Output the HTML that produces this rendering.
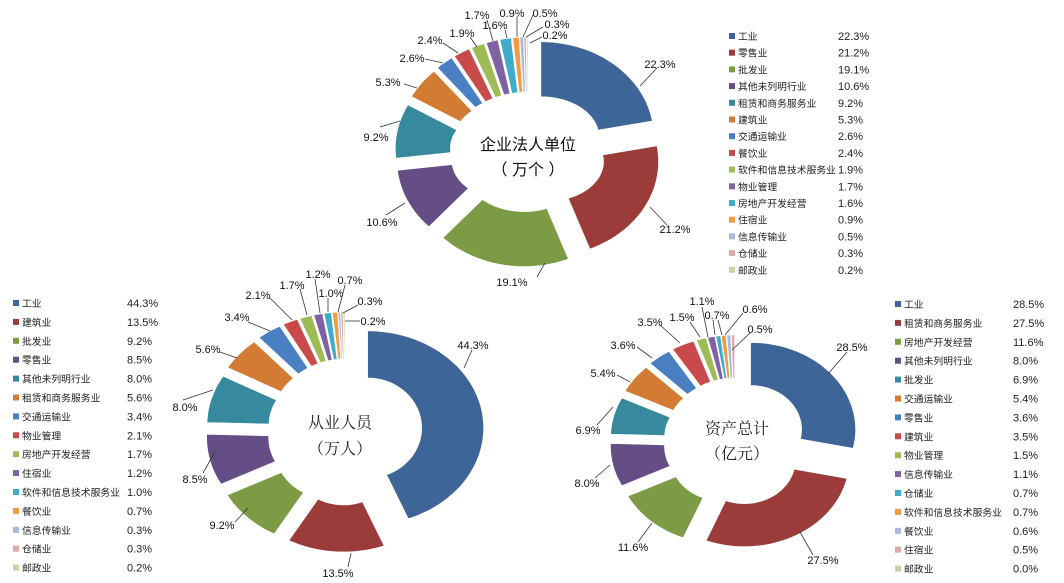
<!DOCTYPE html>
<html><head><meta charset="utf-8">
<style>
html,body{margin:0;padding:0;background:#fff;}
svg{display:block;font-family:"Liberation Sans","Noto Sans CJK SC",sans-serif;}
</style></head>
<body>
<svg id="s" width="1064" height="583" viewBox="0 0 1064 583" xmlns="http://www.w3.org/2000/svg"></svg>
<script>
var C=["#3E6598","#9B3C3A","#7D9A45","#654D85","#37899E","#D27B33","#4A7FC4","#C84A4A","#9DBB56","#7F62A3","#3FADC9","#F29A43","#A9B9DA","#DCA9A8","#C3D6A5"];
var s=document.getElementById('s'),h='';
function ring(cx,cy,Rx,Ry,rx,ry,o,vals){
 var tot=vals.reduce(function(a,b){return a+b},0),acc=0;
 vals.forEach(function(v,i){
  if(v<=0){return;}
  var a0=acc/tot*360,a1=(acc+v)/tot*360;acc+=v;
  var m=(a0+a1)/2*Math.PI/180,dx=o*Math.sin(m),dy=-o*Math.cos(m);
  var n=Math.max(2,Math.ceil((a1-a0)/3)),p=[];
  for(var k=0;k<=n;k++){var a=(a0+(a1-a0)*k/n)*Math.PI/180;p.push((cx+dx+Rx*Math.sin(a)).toFixed(1)+','+(cy+dy-Ry*Math.cos(a)).toFixed(1));}
  for(var k=n;k>=0;k--){var a=(a0+(a1-a0)*k/n)*Math.PI/180;p.push((cx+dx+rx*Math.sin(a)).toFixed(1)+','+(cy+dy-ry*Math.cos(a)).toFixed(1));}
  h+='<polygon points="'+p.join(' ')+'" fill="'+C[i]+'" stroke="#fff" stroke-width="0.6"/>';
 });
}
function labels(L){L.forEach(function(l){
 h+='<line x1="'+l[3]+'" y1="'+l[4]+'" x2="'+l[5]+'" y2="'+l[6]+'" stroke="#333" stroke-width="0.8"/>';
 h+='<text x="'+l[1]+'" y="'+(l[2]+4)+'" font-size="11" text-anchor="middle" fill="#111">'+l[0]+'</text>';
});}
function legend(x,y,step,vx,names,vals){names.forEach(function(n,i){
 var yy=y+i*step;
 h+='<rect x="'+x+'" y="'+(yy-3)+'" width="6" height="6" fill="'+C[i]+'"/>';
 h+='<text x="'+(x+9)+'" y="'+(yy+4)+'" font-size="9.8" fill="#222">'+n+'</text>';
 h+='<text x="'+vx+'" y="'+(yy+4)+'" font-size="11" fill="#222">'+vals[i]+'</text>';
});}
// chart 1
var v1=[22.3,21.2,19.1,10.6,9.2,5.3,2.6,2.4,1.9,1.7,1.6,0.9,0.5,0.3,0.2];
ring(528,152,113,95,58,40,20,v1);
labels([["22.3%",660,64,657,68,640,86],["21.2%",675,229,650,207,667,225],["19.1%",512,282,537,277,545,263],
["10.6%",382,222,386,215,405,203],["9.2%",376,137,380,127,400,121],["5.3%",388,82,404,84,417,88],
["2.6%",412,58,425,59,443,63],["2.4%",430,40,443,43,458,53],["1.9%",462,33,470,37,477,47],
["1.7%",477,15,487,20,493,41],["1.6%",495,25,505,30,507,38],["0.9%",512,13,517,17,517,37],
["0.5%",545,13,533,15,523,37],["0.3%",557,24,543,27,526,37],["0.2%",555,35,542,37,530,43]]);
h+='<text x="528" y="150" font-size="16" text-anchor="middle" fill="#111">企业法人单位</text>';
h+='<text x="528" y="175" font-size="16" text-anchor="middle" fill="#111">（ 万个 ）</text>';
legend(729,36,16.7,838,["工业","零售业","批发业","其他未列明行业","租赁和商务服务业","建筑业","交通运输业","餐饮业","软件和信息技术服务业","物业管理","房地产开发经营","住宿业","信息传输业","仓储业","邮政业"],
["22.3%","21.2%","19.1%","10.6%","9.2%","5.3%","2.6%","2.4%","1.9%","1.7%","1.6%","0.9%","0.5%","0.3%","0.2%"]);
// chart 2
var v2=[44.3,13.5,9.2,8.5,8.0,5.6,3.4,2.1,1.7,1.2,1.0,0.7,0.3,0.3,0.2];
ring(345,432,116,97,54,50,23,v2);
labels([["44.3%",473,345,472,350,464,368],["13.5%",338,573,348,567,351,553],["9.2%",222,525,235,522,248,508],
["8.5%",195,479,203,473,215,452],["8.0%",185,407,183,400,213,390],["5.6%",208,349,220,352,237,358],
["3.4%",237,317,248,322,270,331],["2.1%",258,295,270,298,292,320],["1.7%",292,285,300,289,307,315],
["1.2%",318,274,315,279,320,313],["1.0%",331,293,328,298,328,312],["0.7%",350,280,345,285,338,312],
["0.3%",370,301,358,305,343,313],["0.2%",373,321,360,321,345,321]]);
h+='<text x="340" y="428" font-size="16" text-anchor="middle" fill="#222" font-family="Liberation Serif,Noto Serif CJK SC,serif">从业人员</text>';
h+='<text x="340" y="454" font-size="16" text-anchor="middle" fill="#222" font-family="Liberation Serif,Noto Serif CJK SC,serif">（万人）</text>';
legend(13,303,18.9,127,["工业","建筑业","批发业","零售业","其他未列明行业","租赁和商务服务业","交通运输业","物业管理","房地产开发经营","住宿业","软件和信息技术服务业","餐饮业","信息传输业","仓储业","邮政业"],
["44.3%","13.5%","9.2%","8.5%","8.0%","5.6%","3.4%","2.1%","1.7%","1.2%","1.0%","0.7%","0.3%","0.3%","0.2%"]);
// chart 3
var v3=[28.5,27.5,11.6,8.0,6.9,5.4,3.6,3.5,1.5,1.1,0.7,0.7,0.6,0.5,0.0];
ring(735,442,105,87,51,44,20,v3);
labels([["28.5%",852,347,847,352,828,374],["27.5%",823,560,813,555,800,532],["11.6%",633,547,638,542,652,523],
["8.0%",587,483,595,478,610,465],["6.9%",588,430,597,425,613,407],["5.4%",603,373,617,375,630,382],
["3.6%",623,345,637,347,652,358],["3.5%",650,322,660,325,680,343],["1.5%",682,317,690,322,700,337],
["1.1%",702,301,702,307,708,337],["0.7%",717,315,713,320,715,335],["",0,-50,718,320,722,335],
["0.6%",755,309,743,313,725,335],["0.5%",760,329,750,333,732,350]]);
h+='<text x="737" y="434" font-size="16" text-anchor="middle" fill="#222" font-family="Liberation Serif,Noto Serif CJK SC,serif">资产总计</text>';
h+='<text x="737" y="459" font-size="16" text-anchor="middle" fill="#222" font-family="Liberation Serif,Noto Serif CJK SC,serif">（亿元）</text>';
legend(895,304,18.9,1013,["工业","租赁和商务服务业","房地产开发经营","其他未列明行业","批发业","交通运输业","零售业","建筑业","物业管理","信息传输业","仓储业","软件和信息技术服务业","餐饮业","住宿业","邮政业"],
["28.5%","27.5%","11.6%","8.0%","6.9%","5.4%","3.6%","3.5%","1.5%","1.1%","0.7%","0.7%","0.6%","0.5%","0.0%"]);
s.innerHTML=h;
</script>
</body></html>
